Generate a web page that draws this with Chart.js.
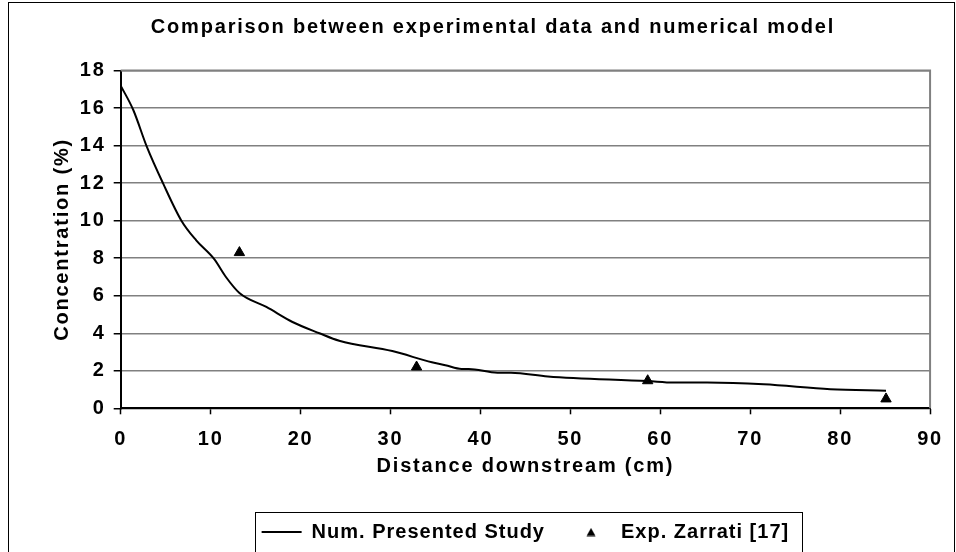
<!DOCTYPE html>
<html>
<head>
<meta charset="utf-8">
<script src="https://cdn.jsdelivr.net/npm/chart.js@4.4.1/dist/chart.umd.min.js"></script>
<style>
  html, body { margin: 0; padding: 0; background: #fff; overflow: hidden; }
  #wrap { position: relative; width: 956px; height: 552px; }
</style>
</head>
<body>
<div id="wrap"><canvas id="chart" width="956" height="552"></canvas></div>
<script>
// Num. Presented Study (numerical curve)
const distance = [0, 1.4, 2.9, 4.7, 6.75, 8.4, 10.4, 11.7, 13.2, 16.2, 19.1, 22.1, 24.3, 30.2, 34.6, 36.1, 37.9, 38.7, 41.9, 43.4, 47.5, 58.6, 61.5, 65.2, 71.5, 78.9, 85.1];
const concentration = [17.2, 15.9, 13.95, 12.0, 10.0, 8.95, 7.95, 7.0, 6.15, 5.4, 4.6, 4.0, 3.6, 3.05, 2.45, 2.3, 2.1, 2.1, 1.9, 1.9, 1.7, 1.45, 1.37, 1.37, 1.28, 1.02, 0.94];

// Exp. Zarrati [17] (measured points)
const expDistance = [13.2, 32.9, 58.6, 85.1];
const expConcentration = [8.3, 2.2, 1.47, 0.5];

// axis ticks
const xTicks = [0, 10, 20, 30, 40, 50, 60, 70, 80, 90];
const yTicks = [0, 2, 4, 6, 8, 10, 12, 14, 16, 18];

const FONT = "'Liberation Sans', Arial, Helvetica, sans-serif";
Chart.defaults.font.family = FONT;
Chart.defaults.color = '#000';
const bold = { size: 20, weight: 'bold' };

// small triangle for the legend (keeps its own size, unlike 'triangle' + pointStyleWidth)
const legendTri = document.createElement('canvas');
legendTri.width = 10;
legendTri.height = 9;
(function () {
  const c = legendTri.getContext('2d');
  c.fillStyle = '#000';
  c.beginPath();
  c.moveTo(5, 0.5);
  c.lineTo(9.5, 8.5);
  c.lineTo(0.5, 8.5);
  c.closePath();
  c.fill();
})();

// Excel-like loose text spacing (legend a bit tighter)
function withSpacing(fn, ls) {
  return function () {
    const c = this.ctx;
    const old = c.letterSpacing;
    c.letterSpacing = ls;
    const r = fn.apply(this, arguments);
    c.letterSpacing = old;
    return r;
  };
}
const spacing = {
  id: 'spacing',
  beforeLayout(chart) {
    chart.ctx.letterSpacing = '1.8px';
    const lg = chart.legend;
    if (lg && !lg._lsPatched) {
      lg._lsPatched = true;
      lg.fit = withSpacing(lg.fit, '1px');
      lg.draw = withSpacing(lg.draw, '1px');
    }
  },
  beforeDraw(chart) { chart.ctx.letterSpacing = '1.8px'; }
};

// outer chart frame, grey plot border, legend box
const frame = {
  id: 'frame',
  afterLayout(chart) {
    const a = chart.chartArea;
    chart.legend.left = a.left;
    chart.legend.right = a.right;
    chart.legend.width = a.right - a.left;
    chart.titleBlock.left += 26;
    chart.titleBlock.right += 26;
  },
  beforeDraw(chart) {
    const ctx = chart.ctx;
    ctx.save();
    ctx.strokeStyle = '#000';
    ctx.lineWidth = 1;
    ctx.strokeRect(8.5, 2.5, 946, 620);
    ctx.restore();
  },
  beforeDatasetsDraw(chart) {
    const {ctx, chartArea: a} = chart;
    ctx.save();
    ctx.strokeStyle = '#808080';
    ctx.lineWidth = 2;
    ctx.beginPath();
    ctx.moveTo(a.left, a.top);
    ctx.lineTo(a.right, a.top);
    ctx.lineTo(a.right, a.bottom);
    ctx.stroke();
    ctx.restore();
  },
  afterDraw(chart) {
    const lg = chart.legend;
    const pad = lg.options.labels.padding;
    const w = lg.lineWidths[0];
    const x0 = (lg.left + pad + lg.right - w) / 2;
    const x1 = x0 + w - pad;
    const itemMid = lg.top + pad + bold.size / 2;
    const ctx = chart.ctx;
    ctx.save();
    ctx.strokeStyle = '#000';
    ctx.lineWidth = 1;
    ctx.strokeRect(Math.round(x0 - 7) + 0.5, Math.round(itemMid - 20) + 0.5, Math.round(x1 - x0 + 19), 80);
    ctx.restore();
  }
};

new Chart(document.getElementById('chart'), {
  type: 'scatter',
  data: {
    datasets: [
      {
        label: 'Num. Presented Study',
        data: distance.map((d, i) => ({x: d, y: concentration[i]})),
        showLine: true,
        borderColor: '#000',
        backgroundColor: '#000',
        borderWidth: 2,
        pointRadius: 0,
        pointStyle: 'line',
        cubicInterpolationMode: 'monotone'
      },
      {
        label: 'Exp. Zarrati [17]',
        data: expDistance.map((d, i) => ({x: d, y: expConcentration[i]})),
        showLine: false,
        borderColor: '#000',
        backgroundColor: '#000',
        borderWidth: 1,
        pointRadius: 6,
        pointStyle: 'triangle'
      }
    ]
  },
  options: {
    responsive: false,
    animation: false,
    devicePixelRatio: 1,
    layout: { padding: { left: 0, right: 22, top: 0, bottom: 0 } },
    plugins: {
      title: {
        display: true,
        text: 'Comparison between experimental data and numerical model',
        color: '#000',
        font: bold,
        padding: { top: 15, bottom: 31.6 }
      },
      legend: {
        position: 'bottom',
        labels: {
          usePointStyle: true,
          pointStyleWidth: 40,
          boxHeight: 8,
          color: '#000',
          font: bold,
          padding: 26,
          generateLabels(chart) {
            const items = Chart.defaults.plugins.legend.labels.generateLabels(chart);
            items[1].pointStyle = legendTri;
            return items;
          }
        }
      },
      tooltip: { enabled: false }
    },
    scales: {
      x: {
        type: 'linear',
        min: 0,
        max: 90,
        afterBuildTicks: s => { s.ticks = xTicks.map(v => ({value: v})); },
        afterFit: s => { s.height = 87.7; },
        grid: { drawOnChartArea: false, drawTicks: true, tickLength: 6, tickColor: '#000', tickWidth: 1.5 },
        border: { display: true, color: '#000', width: 2 },
        ticks: { color: '#000', font: bold, padding: 13, maxRotation: 0, autoSkip: false },
        title: {
          display: true,
          text: 'Distance downstream (cm)',
          color: '#000',
          font: bold,
          padding: { top: 0, bottom: 18 }
        }
      },
      y: {
        type: 'linear',
        min: 0,
        max: 18,
        afterBuildTicks: s => { s.ticks = yTicks.map(v => ({value: v})); },
        afterFit: s => { s.width = 120.7; },
        grid: { color: '#808080', lineWidth: 1.5, drawTicks: true, tickLength: 7, tickColor: '#000', tickWidth: 1.5 },
        border: { display: true, color: '#000', width: 2 },
        ticks: { color: '#000', font: bold, padding: 8, autoSkip: false },
        title: {
          display: true,
          text: 'Concentration (%)',
          color: '#000',
          font: bold,
          padding: { top: 50, bottom: 0 }
        }
      }
    }
  },
  plugins: [spacing, frame]
});
</script>
</body>
</html>
